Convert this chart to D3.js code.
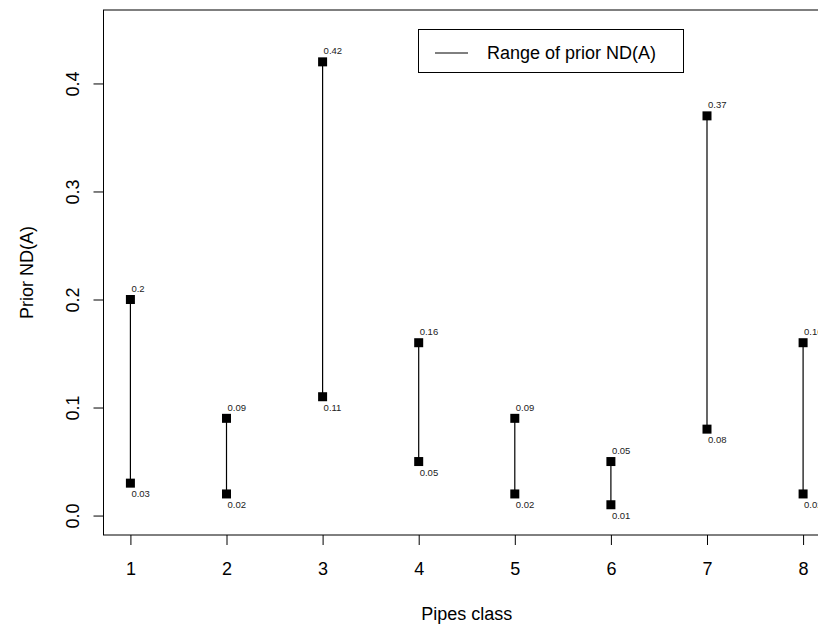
<!DOCTYPE html>
<html>
<head>
<meta charset="utf-8">
<script src="https://cdn.jsdelivr.net/npm/d3@7"></script>
<style>
  body { margin: 0; background: #fff; }
  svg { display: block; font-family: "Liberation Sans", Arial, sans-serif; }
</style>
</head>
<body>
<div id="chart"></div>
<script>
// pipe classes and their range of prior ND(A)
var classes = [1, 2, 3, 4, 5, 6, 7, 8]
var lowValues = [0.03, 0.02, 0.11, 0.05, 0.02, 0.01, 0.08, 0.02]
var highValues = [0.2, 0.09, 0.42, 0.16, 0.09, 0.05, 0.37, 0.16]
var yTicks = [0, 0.1, 0.2, 0.3, 0.4]

var width = 818, height = 628
var margin = {top: 10, right: -12, bottom: 93, left: 103.5}
var fontSize = "18px"

var svg = d3.select("#chart").append("svg")
    .attr("width", width)
    .attr("height", height)

// R style: 4% padding on each side of the limits
var x = d3.scaleLinear()
    .domain([1 - 0.28, 8 + 0.28])
    .range([margin.left, width - margin.right])
var y = d3.scaleLinear()
    .domain([0 - 0.018, 0.45 + 0.018])
    .range([height - margin.bottom, margin.top])

var data = classes.map(function(c, i){
	return {cls: c, lo: lowValues[i], hi: highValues[i]}
})

// plot box
svg.append("rect")
    .attr("x", x.range()[0]).attr("y", y.range()[1])
    .attr("width", x.range()[1] - x.range()[0])
    .attr("height", y.range()[0] - y.range()[1])
    .attr("fill", "none").attr("stroke", "#000").attr("stroke-width", 1)

// x axis
var xAxis = svg.append("g")
    .attr("transform", "translate(0," + y.range()[0] + ")")
    .call(d3.axisBottom(x).tickValues(classes).tickSize(10).tickFormat(d3.format("d")))
xAxis.select(".domain").remove()
xAxis.selectAll("text")
    .style("font-size", fontSize).attr("fill", "#000")
    .style("font-family", "Liberation Sans, Arial, sans-serif")
    .attr("dy", 0).attr("y", 40)

// y axis, labels parallel to the axis like R
var yAxis = svg.append("g")
    .attr("transform", "translate(" + x.range()[0] + ",0)")
    .call(d3.axisLeft(y).tickValues(yTicks).tickSize(10).tickFormat(d3.format(".1f")))
yAxis.select(".domain").attr("d", "M0," + y(0) + "V" + y(0.4))
yAxis.selectAll("text")
    .style("font-size", fontSize).attr("fill", "#000")
    .style("font-family", "Liberation Sans, Arial, sans-serif")
    .attr("text-anchor", "middle")
    .attr("x", 0).attr("dy", 0)
    .attr("transform", "translate(-25,0) rotate(-90)")

// axis titles
svg.append("text")
    .attr("x", (x.range()[0] + x.range()[1]) / 2)
    .attr("y", 620)
    .attr("text-anchor", "middle")
    .style("font-size", fontSize)
    .text("Pipes class")
svg.append("text")
    .attr("transform", "translate(33," + (y.range()[0] + y.range()[1]) / 2 + ") rotate(-90)")
    .attr("text-anchor", "middle")
    .style("font-size", fontSize)
    .text("Prior ND(A)")

// range segments
svg.selectAll(".range")
    .data(data)
    .enter()
    .append("line")
    .attr("class", "range")
    .attr("x1", function(d){ return x(d.cls) })
    .attr("x2", function(d){ return x(d.cls) })
    .attr("y1", function(d){ return y(d.lo) })
    .attr("y2", function(d){ return y(d.hi) })
    .attr("stroke", "#000").attr("stroke-width", 1.2)

// end points
var ends = []
data.forEach(function(d){
	ends.push({cls: d.cls, v: d.hi, top: true})
	ends.push({cls: d.cls, v: d.lo, top: false})
})
var sq = 9
svg.selectAll(".end")
    .data(ends)
    .enter()
    .append("rect")
    .attr("class", "end")
    .attr("x", function(d){ return x(d.cls) - sq / 2 })
    .attr("y", function(d){ return y(d.v) - sq / 2 })
    .attr("width", sq).attr("height", sq)
    .attr("fill", "#000")

svg.selectAll(".endLabel")
    .data(ends)
    .enter()
    .append("text")
    .attr("class", "endLabel")
    .attr("x", function(d){ return x(d.cls) + 1 })
    .attr("y", function(d){ return y(d.v) + (d.top ? -7.5 : 14) })
    .style("font-size", "9.5px")
    .attr("fill", "#222")
    .text(function(d){ return String(d.v) })

// legend
var legend = svg.append("g")
legend.append("rect")
    .attr("x", 418.5).attr("y", 29.5)
    .attr("width", 265).attr("height", 43)
    .attr("fill", "#fff").attr("stroke", "#000")
legend.append("line")
    .attr("x1", 435).attr("x2", 468)
    .attr("y1", 53).attr("y2", 53)
    .attr("stroke", "#000")
legend.append("text")
    .attr("x", 487).attr("y", 59)
    .style("font-size", fontSize)
    .text("Range of prior ND(A)")
</script>
</body>
</html>
